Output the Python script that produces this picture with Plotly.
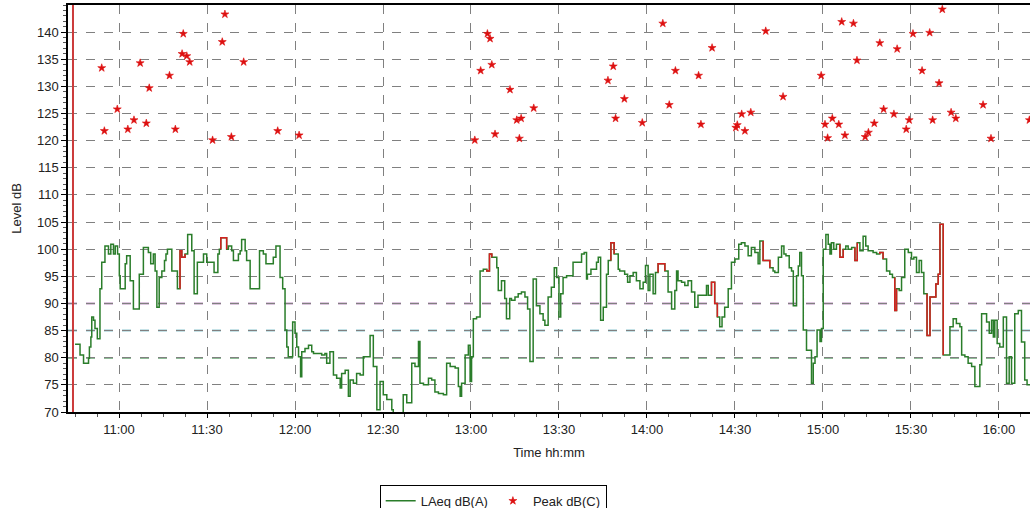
import pandas as pd
import plotly.graph_objects as go

# ---------------- data (minutes after 10:00, dB) ----------------
laeq_min = [45.0, 46.7, 47.9, 49.6, 49.9, 50.4, 50.7, 51.3, 51.8, 52.6, 53.5, 54.1, 55.2, 56.4, 57.2, 58.1,
            58.7, 59.5, 60.1, 60.4, 62.1, 62.6, 63.8, 64.9, 66.9, 68.3, 70.0, 70.8, 71.7, 72.3, 72.9, 73.7,
            74.6, 75.5, 76.0, 76.5, 78.0, 79.9, 80.8, 81.4, 82.5, 83.4, 84.8, 85.6, 86.7, 88.8, 89.9, 92.4,
            93.7, 94.2, 94.7, 96.7, 97.3, 98.4, 99.0, 100.7, 101.3, 101.8, 103.0, 103.5, 104.7, 107.9, 109.2,
            110.1, 112.6, 113.5, 114.9, 115.8, 116.6, 117.2, 117.7, 119.2, 120.0, 120.6, 121.2, 121.9, 122.3,
            123.4, 124.6, 125.7, 126.3, 129.1, 130.2, 130.8, 131.9, 133.1, 134.2, 135.4, 135.9, 137.1, 138.2,
            138.8, 139.9, 141.0, 142.2, 143.3, 145.6, 146.7, 147.9, 149.0, 150.1, 151.3, 153.0, 153.5, 156.9,
            158.1, 159.8, 160.9, 162.1, 162.6, 163.8, 165.5, 166.6, 167.7, 168.9, 170.6, 171.7, 172.9, 174.6,
            175.7, 176.3, 176.8, 178.0, 179.1, 179.7, 180.2, 180.8, 181.9, 183.1, 184.2, 185.4, 186.3, 187.1,
            188.8, 189.3, 190.4, 191.5, 192.1, 193.2, 193.8, 195.0, 196.1, 197.2, 198.4, 199.3, 200.1, 201.2,
            202.3, 203.5, 204.6, 205.2, 206.3, 207.4, 208.4, 209.2, 210.0, 210.6, 211.4, 212.6, 214.8, 217.7,
            218.6, 219.4, 219.7, 220.9, 222.8, 223.4, 224.2, 225.1, 226.2, 226.8, 227.7, 228.8, 230.2, 230.7,
            232.4, 233.4, 234.2, 235.3, 236.4, 237.6, 238.7, 239.5, 240.4, 241.0, 242.1, 242.9, 243.8, 246.1,
            247.2, 248.4, 249.5, 250.1, 250.6, 251.8, 252.9, 254.0, 255.2, 256.3, 257.4, 260.3, 260.9, 262.0,
            263.1, 264.0, 264.8, 265.6, 266.5, 267.7, 268.8, 270.0, 271.3, 272.2, 273.4, 274.5, 275.6, 276.8,
            277.9, 278.5, 279.6, 281.9, 283.0, 283.6, 284.8, 285.9, 286.7, 287.4, 288.5, 289.3, 289.9, 291.0,
            291.6, 292.1, 292.7, 293.3, 294.4, 296.1, 296.7, 297.3, 298.0, 299.0, 299.5, 300.1, 301.0, 301.8,
            302.4, 302.9, 303.7, 304.6, 305.8, 306.9, 307.8, 308.6, 309.8, 310.9, 311.7, 312.6, 313.7, 314.6,
            315.4, 317.1, 318.3, 319.4, 320.5, 321.7, 322.8, 323.7, 324.5, 325.1, 326.0, 326.8, 327.9, 329.1,
            330.2, 331.0, 331.9, 332.8, 333.6, 334.4, 335.5, 336.5, 338.5, 339.3, 339.9, 341.0, 343.3, 344.4,
            345.5, 346.7, 347.3, 348.4, 349.5, 350.7, 351.8, 353.5, 354.1, 355.8, 356.7, 357.5, 358.1, 358.6,
            359.4, 360.3, 361.5, 362.6, 363.5, 364.3, 365.4, 366.6, 367.7, 368.8, 369.6, 370.6]
laeq_db = [82.5, 80.5, 79.0, 79.9, 82.0, 83.8, 87.5, 86.9, 85.4, 83.5, 92.7, 97.6, 100.6, 99.1, 100.9, 99.1,
           100.6, 99.1, 95.1, 92.7, 97.3, 98.8, 94.2, 89.0, 95.4, 100.3, 99.4, 97.3, 99.1, 96.0, 89.3, 94.8,
           96.0, 97.9, 99.1, 100.0, 96.0, 92.7, 99.7, 98.5, 99.1, 102.7, 99.7, 91.8, 97.6, 99.1, 97.6, 95.7,
           99.1, 100.0, 102.1, 100.0, 100.6, 99.7, 97.9, 99.1, 99.7, 101.8, 99.7, 97.9, 92.7, 99.7, 99.1,
           97.3, 98.5, 100.6, 94.8, 92.7, 85.1, 82.0, 80.2, 86.6, 84.5, 82.0, 80.2, 76.5, 81.1,
           81.7, 82.3, 81.1, 80.8, 80.5, 80.8, 79.0, 81.1, 76.8, 76.2, 74.4, 77.1, 77.7, 72.9,
           75.9, 75.3, 77.1, 76.8, 80.2, 84.1, 78.4, 70.4, 75.6, 73.2, 72.3, 70.4, 69.0, 73.2,
           71.7, 79.0, 78.4, 83.0, 75.3, 75.0, 76.2, 75.9, 73.7, 73.4, 73.2, 79.0, 78.4, 78.1,
           74.7, 72.9, 75.3, 80.5, 82.3, 75.6, 80.2, 87.2, 87.5, 96.0, 96.3, 96.0, 99.1, 98.5,
           96.6, 92.4, 94.2, 90.9, 87.2, 90.9, 90.6, 91.2, 91.8, 92.1, 91.2, 89.0, 79.3, 94.5,
           89.6, 88.1, 86.9, 86.0, 91.2, 93.0, 96.6, 94.8, 87.5, 91.8, 94.8, 95.1, 97.6, 99.1,
           99.4, 94.5, 95.4, 96.3, 97.6, 98.5, 86.9, 89.3, 95.4, 97.9, 101.2, 99.1, 96.3, 96.0,
           95.4, 93.9, 95.1, 95.7, 94.2, 92.7, 93.9, 97.0, 92.4, 95.4, 91.8, 95.7, 97.3, 96.0,
           92.1, 89.0, 92.4, 96.0, 94.2, 93.9, 93.3, 94.2, 92.1, 89.3, 91.5, 93.3, 91.5, 93.9,
           90.0, 87.5, 85.7, 87.5, 89.3, 92.7, 97.6, 98.2, 100.9, 101.2, 100.6, 98.8, 100.3, 99.4,
           97.3, 101.5, 97.9, 96.6, 96.0, 95.7, 98.5, 100.6, 99.1, 98.8, 96.6, 96.0, 89.6, 95.1,
           96.9, 99.4, 95.1, 85.1, 81.4, 75.3, 79.0, 80.2, 85.1, 83.0, 85.4, 100.0, 102.7, 100.9,
           99.1, 101.2, 100.0, 100.9, 98.5, 100.0, 100.6, 100.0, 100.3, 97.9, 101.2, 99.7, 102.4, 100.6,
           99.7, 99.4, 99.1, 99.4, 98.2, 96.0, 95.4, 94.8, 88.7, 92.7, 92.4, 94.8, 100.0, 99.4,
           98.2, 98.5, 95.7, 97.9, 95.7, 91.8, 84.1, 91.2, 93.6, 95.4, 104.6, 80.5, 85.7, 87.2,
           86.3, 85.7, 80.5, 80.2, 79.0, 78.4, 74.7, 78.7, 88.1, 86.6, 84.5, 86.9, 83.8, 86.9,
           82.6, 82.0, 87.5, 75.3, 80.2, 75.3, 88.1, 88.7, 82.9, 75.9, 75.0, 75.0]

# intervals (minutes after 10:00) where the LAeq trace is drawn red
red_start = [80.8, 94.7, 185.4, 227.7, 243.8, 262.0, 279.6, 305.8, 310.9, 319.4, 324.5, 335.5]
red_end = [82.5, 96.7, 187.1, 228.8, 246.1, 264.0, 281.9, 306.9, 311.7, 320.5, 325.1, 341.0]

peak_min = [54.1, 55.0, 59.4, 63.0, 65.1, 67.2, 69.3, 70.3, 77.2, 79.2, 81.5, 81.9, 83.1, 84.1, 91.9, 95.2,
            96.1, 98.3, 102.5, 114.1, 121.4, 181.3, 183.3, 185.6, 186.5, 187.1, 188.2, 193.3, 195.6, 196.5,
            197.1, 201.4, 226.7, 228.5, 229.3, 232.3, 238.4, 245.4, 247.6, 249.7, 257.6, 258.4, 262.2, 270.3,
            270.8, 272.3, 273.4, 275.4, 280.5, 286.4, 299.4, 300.7, 301.6, 303.2, 305.4, 306.4, 307.5, 310.4,
            311.6, 314.4, 315.5, 317.5, 319.4, 320.7, 324.2, 325.3, 328.4, 329.4, 330.7, 333.8, 336.4, 337.4,
            339.6, 340.7, 343.7, 345.3, 354.6, 357.3, 370.4]
peak_db = [133.4, 121.8, 125.8, 122.1, 123.8, 134.3, 123.2, 129.7, 132.0, 122.1, 136.0, 139.7, 135.6, 134.5, 120.1, 138.2,
           143.3, 120.7, 134.5, 121.8, 121.0, 120.1, 132.9, 139.7, 138.8, 134.0, 121.2, 129.4, 123.8, 120.4,
           124.1, 126.0, 131.1, 133.7, 124.1, 127.7, 123.3, 141.6, 126.6, 132.9, 132.0, 123.0, 137.1, 122.4,
           122.9, 124.9, 121.8, 125.2, 140.2, 128.1, 132.0, 123.0, 120.5, 124.1, 123.0, 141.9, 121.0, 141.6,
           134.8, 120.7, 121.5, 123.2, 138.0, 125.8, 124.9, 136.9, 122.1, 123.8, 139.7, 132.9, 139.9, 123.8,
           130.6, 144.2, 125.2, 124.1, 126.6, 120.4, 123.8]

start_marker_min = [44.3, 44.3]
start_marker_db = [70, 145]

threshold_db = [80, 85, 90]
threshold_color = ["#1f7a2e", "#1c8aa0", "#7a1f80"]

y_ticks = [70, 75, 80, 85, 90, 95, 100, 105, 110, 115, 120, 125, 130, 135, 140]
x_range_min = [42.6, 370.6]

# ---------------- helpers ----------------
base = pd.Timestamp("2024-01-01 10:00:00")


def to_time(mins):
    return [None if m is None else base + pd.Timedelta(minutes=m) for m in mins]


red_x, red_y = [], []
for a, b in zip(red_start, red_end):
    prev = None
    seg_x, seg_y = [], []
    for t, v in zip(laeq_min, laeq_db):
        if t < a:
            prev = v
        elif t <= b:
            if not seg_x and prev is not None:
                seg_x.append(t)
                seg_y.append(prev)
            seg_x.append(t)
            seg_y.append(v)
    red_x += seg_x + [None]
    red_y += seg_y + [None]

FONT = "Liberation Sans, Arial, sans-serif"
GREEN = "#2a7d2a"
RED = "#d42020"

fig = go.Figure()

fig.add_trace(go.Scatter(
    x=to_time(laeq_min), y=laeq_db, mode="lines", line_shape="hv",
    line=dict(color=GREEN, width=1.5), name="LAeq dB(A)"))

fig.add_trace(go.Scatter(
    x=to_time(red_x), y=red_y, mode="lines", line_shape="hv", connectgaps=False,
    line=dict(color=RED, width=1.5), showlegend=False, hoverinfo="skip"))

fig.add_trace(go.Scatter(
    x=to_time(start_marker_min), y=start_marker_db, mode="lines",
    line=dict(color="#cc3b3b", width=2), showlegend=False, hoverinfo="skip"))

fig.add_trace(go.Scatter(
    x=to_time(peak_min), y=peak_db, mode="markers",
    marker=dict(symbol="star", size=6, color="#dd1010", line=dict(width=0.6, color="#dd1010")),
    name="Peak dB(C)"))

for lvl, col in zip(threshold_db, threshold_color):
    fig.add_shape(type="line", xref="paper", x0=0, x1=1, yref="y", y0=lvl, y1=lvl,
                  line=dict(color=col, width=1.5, dash="dash"), layer="between")

fig.update_layout(
    width=1030, height=508,
    margin=dict(l=68, r=0, t=5, b=96, autoexpand=False),
    paper_bgcolor="white", plot_bgcolor="white",
    font=dict(family=FONT, size=13, color="#222222"),
    legend=dict(orientation="h", x=0.324, xanchor="left", y=-0.179, yanchor="top",
                bordercolor="black", borderwidth=1, bgcolor="white",
                font=dict(size=13), itemwidth=30, tracegroupgap=0),
)

fig.update_xaxes(
    type="date", range=to_time(x_range_min), automargin=False,
    tick0=base + pd.Timedelta(minutes=60), dtick=1800000, tickformat="%H:%M",
    showgrid=True, gridcolor="#808080", gridwidth=1, griddash="dash",
    showline=True, linecolor="black", linewidth=2, mirror=True,
    ticks="outside", ticklen=4, tickcolor="black",
    minor=dict(dtick=450000, tick0=base + pd.Timedelta(minutes=60), ticks="outside",
               ticklen=3, tickcolor="#555555", showgrid=False),
    title=dict(text="Time hh:mm", font=dict(size=13), standoff=12),
    zeroline=False,
)

fig.update_yaxes(
    range=[70, 145], tickmode="array", tickvals=y_ticks, automargin=False,
    showgrid=True, gridcolor="#808080", gridwidth=1, griddash="dash",
    showline=True, linecolor="black", linewidth=1.5,
    ticks="outside", ticklen=5, tickcolor="black",
    minor=dict(tickmode="linear", tick0=70, dtick=1, ticks="outside", ticklen=3,
               tickcolor="#555555", showgrid=False),
    title=dict(text="Level dB", font=dict(size=13), standoff=12),
    zeroline=False,
)

fig.write_html("out.html", config={"displayModeBar": False},
               post_script="document.body.style.margin='0';document.body.style.overflow='hidden';")
